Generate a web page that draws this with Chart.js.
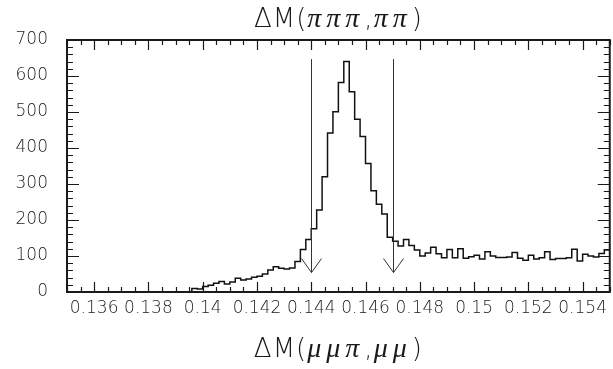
<!DOCTYPE html>
<html>
<head>
<meta charset="utf-8">
<script src="https://cdn.jsdelivr.net/npm/chart.js@4.4.1/dist/chart.umd.min.js"></script>
<style>
  html, body { margin: 0; padding: 0; background: #fff; }
  #wrap { width: 613px; height: 369px; }
</style>
</head>
<body>
<div id="wrap"><canvas id="dmChart" width="613" height="369"></canvas></div>
<script>
// ΔM histogram, 100 bins of width 0.0002 starting at 0.135
const binStart = 0.135;
const binWidth = 0.0002;
const counts = [
    0,   0,   0,   0,   0,   0,   0,   0,   0,   0,
    0,   0,   0,   0,   0,   0,   0,   0,   0,   0,
    0,   0,   0,  10,   8,  15,  19,  24,  29,  22,
   28,  38,  33,  36,  41,  44,  50,  61,  70,  66,
   64,  67,  85, 118, 146, 176, 228, 320, 442, 501,
  582, 640, 556, 480, 432, 357, 281, 244, 217, 152,
  141, 128, 146, 129, 117, 100, 108, 124, 106,  95,
  118,  95, 120,  94,  98, 102,  92, 112, 100,  96,
   96,  97, 110,  94,  88, 102,  92,  95, 112,  90,
   93,  93,  95, 119,  86, 105, 100,  97, 107, 117
];

const xTickValues = [0.136, 0.138, 0.140, 0.142, 0.144, 0.146, 0.148, 0.150, 0.152, 0.154];
const yTickValues = [0, 100, 200, 300, 400, 500, 600, 700];

// selection window marked with arrows
const cutValues = [0.144, 0.147];
const arrowTop = 647;
const arrowTip = 54;

const titleParts = [["ΔM(", "roman"], ["πππ", "greek"], [",", "roman"], ["ππ", "greek"], [")", "roman"]];
const xLabelParts = [["ΔM(", "roman"], ["μμπ", "greek"], [",", "roman"], ["μμ", "greek"], [")", "roman"]];

const ink = "#1a1a1a";
const tickFont = { family: "'DejaVu Sans', sans-serif", size: 17, weight: 300 };

let points = counts.map((c, i) => ({ x: binStart + i * binWidth, y: c }));
points.push({ x: binStart + counts.length * binWidth, y: counts[counts.length - 1] });

function drawParts(ctx, parts, cx, baseline) {
    const fonts = {
        roman: "300 26px 'DejaVu Sans', sans-serif",
        greek: "italic 28px 'Liberation Serif', serif"
    };
    const spacing = { roman: "1px", greek: "5px" };
    let total = 0;
    let widths = parts.map(p => {
        ctx.font = fonts[p[1]];
        ctx.letterSpacing = spacing[p[1]];
        let w = ctx.measureText(p[0]).width;
        total += w;
        return w;
    });
    let x = cx - total / 2;
    ctx.fillStyle = ink;
    ctx.textBaseline = "alphabetic";
    ctx.textAlign = "left";
    parts.forEach((p, i) => {
        ctx.font = fonts[p[1]];
        ctx.letterSpacing = spacing[p[1]];
        ctx.fillText(p[0], x, baseline);
        x += widths[i];
    });
    ctx.letterSpacing = "0px";
}

// frame with inward ticks on all sides, cut arrows and the axis titles
const framePlugin = {
    id: "framePlugin",
    afterDraw(chart) {
        const ctx = chart.ctx;
        const area = chart.chartArea;
        const xs = chart.scales.x;
        const ys = chart.scales.y;

        ctx.save();
        ctx.strokeStyle = ink;

        ctx.lineWidth = 1.2;
        ctx.beginPath();
        for (let k = 0; k <= 40; k++) {
            let v = 0.135 + k * 0.0005;
            let px = Math.round(xs.getPixelForValue(v)) + 0.5;
            let major = xTickValues.some(t => Math.abs(t - v) < 1e-7);
            let len = major ? 10 : 5;
            ctx.moveTo(px, area.bottom);
            ctx.lineTo(px, area.bottom - len);
            ctx.moveTo(px, area.top);
            ctx.lineTo(px, area.top + len);
        }
        for (let v = 0; v <= 700; v += 20) {
            let py = Math.round(ys.getPixelForValue(v)) + 0.5;
            let len = v % 100 === 0 ? 12 : 6;
            ctx.moveTo(area.left, py);
            ctx.lineTo(area.left + len, py);
            ctx.moveTo(area.right, py);
            ctx.lineTo(area.right - len, py);
        }
        ctx.stroke();

        ctx.lineWidth = 2;
        ctx.strokeRect(area.left, area.top, area.right - area.left, area.bottom - area.top);

        ctx.lineWidth = 1;
        ctx.strokeStyle = "#333";
        cutValues.forEach(v => {
            let px = Math.round(xs.getPixelForValue(v)) + 0.5;
            let top = ys.getPixelForValue(arrowTop);
            let tip = ys.getPixelForValue(arrowTip);
            ctx.beginPath();
            ctx.moveTo(px, top);
            ctx.lineTo(px, tip);
            ctx.moveTo(px - 10, tip - 14);
            ctx.lineTo(px, tip);
            ctx.lineTo(px + 10, tip - 14);
            ctx.stroke();
        });

        let cx = (area.left + area.right) / 2;
        drawParts(ctx, titleParts, cx, 27);
        drawParts(ctx, xLabelParts, cx, 357);
        ctx.restore();
    }
};

const chart = new Chart(document.getElementById("dmChart"), {
    type: "line",
    data: {
        datasets: [{
            data: points,
            stepped: true,
            borderColor: "#111",
            borderWidth: 1.5,
            pointRadius: 0,
            fill: false
        }]
    },
    options: {
        responsive: false,
        animation: false,
        devicePixelRatio: 1,
        layout: { padding: { top: 40, right: 1, left: 0, bottom: 0 } },
        plugins: {
            legend: { display: false },
            tooltip: { enabled: false }
        },
        scales: {
            x: {
                type: "linear",
                min: 0.135,
                max: 0.155,
                grid: { display: false, drawTicks: false },
                border: { display: false },
                afterBuildTicks: scale => { scale.ticks = xTickValues.map(v => ({ value: v })); },
                afterFit: scale => { scale.height = 77; },
                ticks: {
                    autoSkip: false,
                    maxRotation: 0,
                    padding: 6,
                    color: ink,
                    font: tickFont,
                    callback: v => String(Number(v.toFixed(3)))
                }
            },
            y: {
                min: 0,
                max: 700,
                grid: { display: false, drawTicks: false },
                border: { display: false },
                afterBuildTicks: scale => { scale.ticks = yTickValues.map(v => ({ value: v })); },
                afterFit: scale => { scale.width = 67; },
                ticks: {
                    padding: 19,
                    color: ink,
                    font: tickFont
                }
            }
        }
    },
    plugins: [framePlugin]
});
</script>
</body>
</html>
